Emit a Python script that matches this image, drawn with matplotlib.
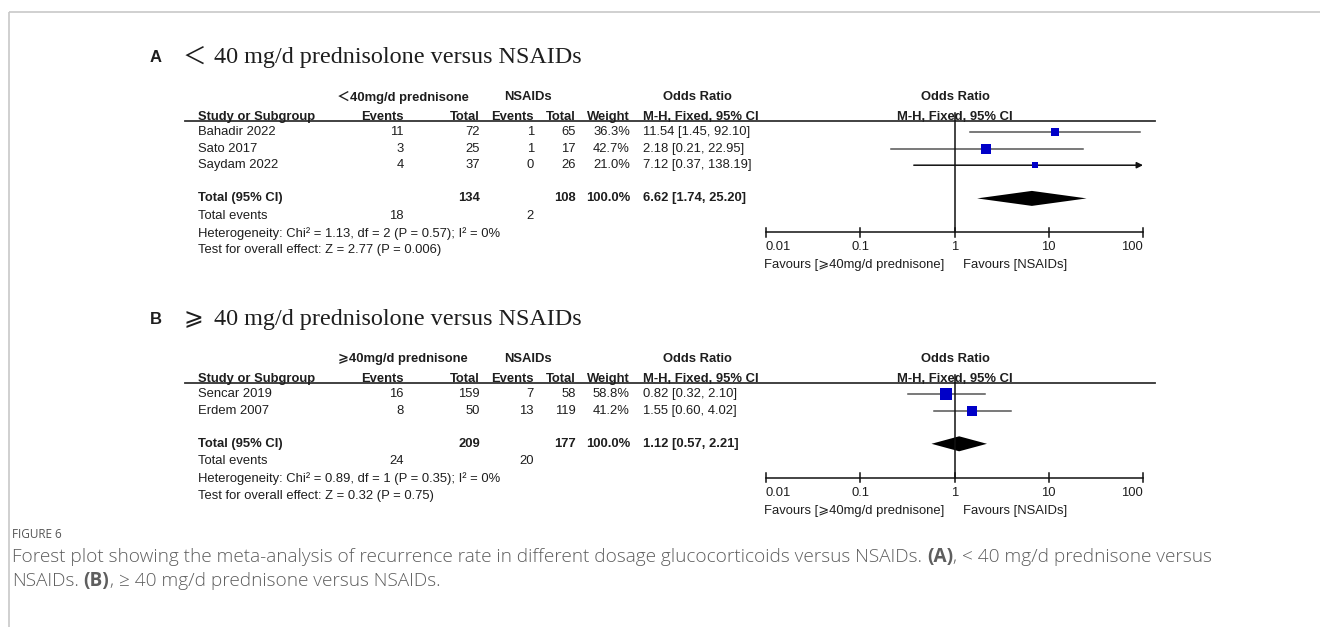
import matplotlib
matplotlib.use("Agg")
import matplotlib.pyplot as plt
import numpy as np

# ---- data ----
studies_a = ["Bahadir 2022", "Sato 2017", "Saydam 2022"]
ev_trt_a = [11, 3, 4]
tot_trt_a = [72, 25, 37]
ev_ctl_a = [1, 1, 0]
tot_ctl_a = [65, 17, 26]
weight_a = [36.3, 42.7, 21.0]
or_a = [11.54, 2.18, 7.12]
lo_a = [1.45, 0.21, 0.37]
hi_a = [92.10, 22.95, 138.19]
pooled_a = [6.62, 1.74, 25.20]
totals_a = [134, 108]
tot_events_a = [18, 2]
het_a = "Heterogeneity: Chi² = 1.13, df = 2 (P = 0.57); I² = 0%"
test_a = "Test for overall effect: Z = 2.77 (P = 0.006)"

studies_b = ["Sencar 2019", "Erdem 2007"]
ev_trt_b = [16, 8]
tot_trt_b = [159, 50]
ev_ctl_b = [7, 13]
tot_ctl_b = [58, 119]
weight_b = [58.8, 41.2]
or_b = [0.82, 1.55]
lo_b = [0.32, 0.60]
hi_b = [2.10, 4.02]
pooled_b = [1.12, 0.57, 2.21]
totals_b = [209, 177]
tot_events_b = [24, 20]
het_b = "Heterogeneity: Chi² = 0.89, df = 1 (P = 0.35); I² = 0%"
test_b = "Test for overall effect: Z = 0.32 (P = 0.75)"

ticks = [0.01, 0.1, 1, 10, 100]
tick_labels = ["0.01", "0.1", "1", "10", "100"]

W, H = 1320, 627
fig = plt.figure(figsize=(W / 100, H / 100), dpi=100)
ax = fig.add_axes([0, 0, 1, 1])
ax.set_xlim(0, W)
ax.set_ylim(H, 0)
ax.axis("off")

# forest axes: log scale, 0.01 .. 100 spanning x=766..1143 px
fx0, fx1 = 766, 1143
fa = fig.add_axes([fx0 / W, 0, (fx1 - fx0) / W, 1])
fa.set_xscale("log")
fa.set_xlim(0.01, 100)
fa.set_ylim(H, 0)
fa.axis("off")

SANS = ["Liberation Sans", "DejaVu Sans"]
FS = 9.4
TXT = "#1e1e1e"
BLUE = "#0000c8"

# frame lines
ax.plot([9, W], [11.5, 11.5], color="#c8c8c8", lw=1.2, solid_capstyle="butt")
ax.plot([9, 9], [11.5, H], color="#c8c8c8", lw=1.2, solid_capstyle="butt")


def t(x, y, s, ha="left", bold=False, size=FS, family=SANS, color=TXT, va="center"):
    ax.text(x, y, s, ha=ha, va=va, fontsize=size, family=family,
            fontweight="bold" if bold else "normal", color=color)


def draw_panel(y0, letter, sym, grp_label, studies, ev_t, tot_t, ev_c, tot_c,
               weight, orr, lo, hi, pooled, totals, tot_events, het, test):
    # title
    t(150, y0, letter, bold=True, size=12)
    t(183, y0, sym, size=17, family=["Liberation Serif", "Noto Sans CJK SC", "DejaVu Sans"])
    t(214, y0, "40 mg/d prednisolone versus NSAIDs", size=17.4, family=["Liberation Serif"])

    h1 = y0 + 39
    rule = y0 + 62
    h2 = rule
    t(403, h1, grp_label, ha="center", bold=True,
      family=["Liberation Sans", "Noto Sans CJK SC", "DejaVu Sans"])
    t(528, h1, "NSAIDs", ha="center", bold=True)
    t(697, h1, "Odds Ratio", ha="center", bold=True)
    t(955, h1, "Odds Ratio", ha="center", bold=True)
    t(198, h2, "Study or Subgroup", bold=True, va="baseline")
    t(404, h2, "Events", ha="right", bold=True, va="baseline")
    t(480, h2, "Total", ha="right", bold=True, va="baseline")
    t(534, h2, "Events", ha="right", bold=True, va="baseline")
    t(576, h2, "Total", ha="right", bold=True, va="baseline")
    t(630, h2, "Weight", ha="right", bold=True, va="baseline")
    t(643, h2, "M-H, Fixed, 95% CI", bold=True, va="baseline")
    t(955, h2, "M-H, Fixed, 95% CI", ha="center", bold=True, va="baseline")
    ax.plot([185, 1155], [rule + 1, rule + 1], color="#333333", lw=1.3)

    step = 16.6
    n = len(studies)
    ys = [y0 + 74 + i * step for i in range(n)]
    for i, y in enumerate(ys):
        t(198, y, studies[i])
        t(404, y, str(ev_t[i]), ha="right")
        t(480, y, str(tot_t[i]), ha="right")
        t(534, y, str(ev_c[i]), ha="right")
        t(576, y, str(tot_c[i]), ha="right")
        t(630, y, f"{weight[i]:.1f}%", ha="right")
        t(643, y, f"{orr[i]:.2f} [{lo[i]:.2f}, {hi[i]:.2f}]")
        # CI line, arrow when the upper limit runs off the scale
        right = min(hi[i], 100)
        if hi[i] > 100:
            fa.annotate("", xy=(100, y), xytext=(lo[i], y),
                        arrowprops=dict(arrowstyle="-|>", color="#111111", lw=1.1,
                                        mutation_scale=9, shrinkA=0, shrinkB=0),
                        annotation_clip=False)
        else:
            fa.plot([lo[i], right], [y, y], color="#555555", lw=1.1, clip_on=False)
        side = 2.0 * np.sqrt(weight[i]) - 3.2
        fa.plot([orr[i]], [y], marker="s", color=BLUE, markersize=side * 0.72,
                markeredgewidth=0, clip_on=False, zorder=3)

    ytot = ys[0] + (n + 1) * step
    t(198, ytot, "Total (95% CI)", bold=True)
    t(480, ytot, str(totals[0]), ha="right", bold=True)
    t(576, ytot, str(totals[1]), ha="right", bold=True)
    t(630, ytot, "100.0%", ha="right", bold=True)
    t(643, ytot, f"{pooled[0]:.2f} [{pooled[1]:.2f}, {pooled[2]:.2f}]", bold=True)
    dh = 7.5
    fa.fill([pooled[1], pooled[0], pooled[2], pooled[0]],
            [ytot, ytot - dh, ytot, ytot + dh], color="black", lw=0, clip_on=False)

    t(198, ytot + 17.5, "Total events")
    t(404, ytot + 17.5, str(tot_events[0]), ha="right")
    t(534, ytot + 17.5, str(tot_events[1]), ha="right")
    t(198, ytot + 35, het)
    t(198, ytot + 52, test)

    # axis
    yax = ytot + 34
    fa.plot([1, 1], [rule - 7, yax], color="#111111", lw=1.1, clip_on=False)
    fa.plot([0.01, 100], [yax, yax], color="#111111", lw=1.1, clip_on=False)
    for k, (tk, lab) in enumerate(zip(ticks, tick_labels)):
        fa.plot([tk, tk], [yax - 4.5, yax + 4.5], color="#111111", lw=1.1, clip_on=False)
        ha = "left" if k == 0 else ("right" if k == len(ticks) - 1 else "center")
        fa.text(tk, yax + 15, lab, ha=ha, va="center", fontsize=FS, family=SANS, color=TXT)
    t(944, yax + 33, "Favours [⩾40mg/d prednisone]", ha="right")
    t(963, yax + 33, "Favours [NSAIDs]")


draw_panel(58, "A", "＜", "＜40mg/d prednisone", studies_a, ev_trt_a, tot_trt_a,
           ev_ctl_a, tot_ctl_a, weight_a, or_a, lo_a, hi_a, pooled_a, totals_a,
           tot_events_a, het_a, test_a)
draw_panel(320, "B", "⩾", "⩾40mg/d prednisone", studies_b, ev_trt_b, tot_trt_b,
           ev_ctl_b, tot_ctl_b, weight_b, or_b, lo_b, hi_b, pooled_b, totals_b,
           tot_events_b, het_b, test_b)

# ---- caption ----
CAP = ["Open Sans", "DejaVu Sans"]
CAPC = "#5e5e5e"
CS = 13.7
ax.text(12, 535, "FIGURE 6", fontsize=8.5, family=CAP, color="#555555", va="center")

renderer = fig.canvas.get_renderer()


def width(s, bold=False, size=CS):
    tt = ax.text(0, 0, s, fontsize=size, family=CAP,
                 fontweight="bold" if bold else "light")
    w = tt.get_window_extent(renderer).width
    tt.remove()
    return w


def runs(x, y, parts, size=CS):
    sp = width("a a", size=size) - width("aa", size=size)
    for s, bold in parts:
        if s == " ":
            x += sp
            continue
        ax.text(x, y, s, fontsize=size, family=CAP, color=CAPC, va="center",
                fontweight="bold" if bold else "light")
        x += width(s, bold, size)


runs(12, 557, [("Forest plot showing the meta-analysis of recurrence rate in different "
                "dosage glucocorticoids versus NSAIDs.", False), (" ", False),
               ("(A)", True), (", < 40 mg/d prednisone versus", False)])
runs(12, 581, [("NSAIDs.", False), (" ", False), ("(B)", True),
               (", ≥ 40 mg/d prednisone versus NSAIDs.", False)])

fig.savefig("out.png", dpi=100, facecolor="white")
